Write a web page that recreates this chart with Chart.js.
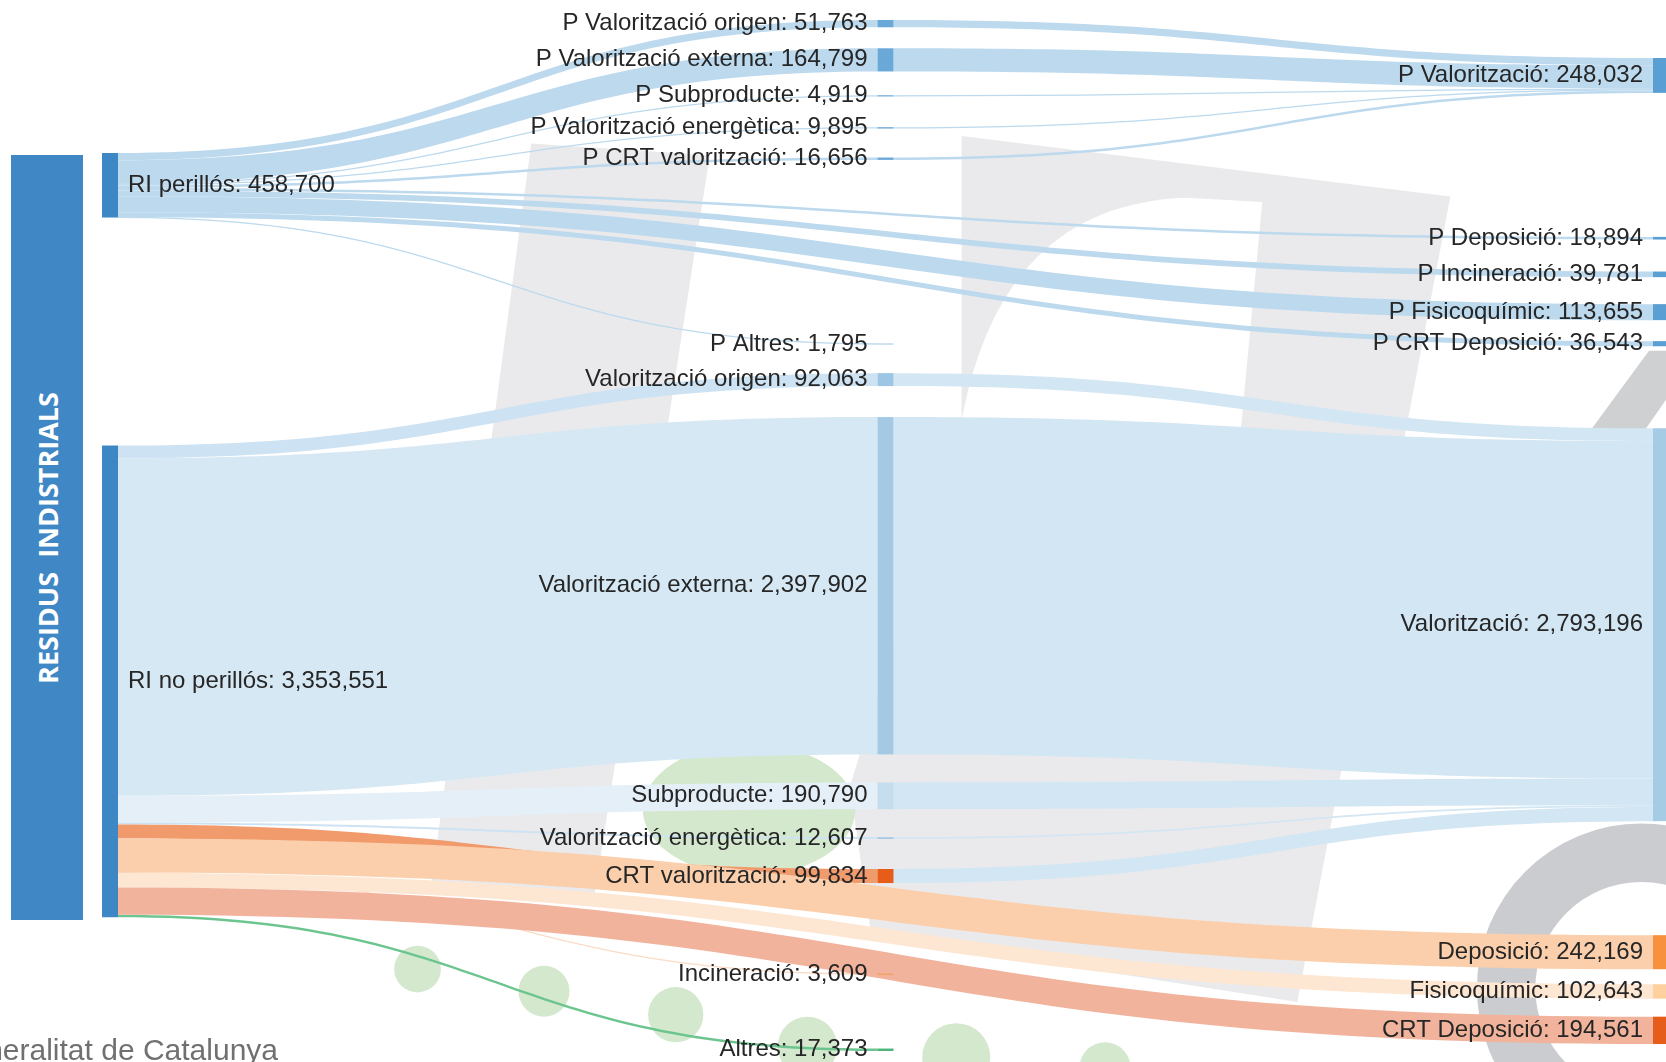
<!DOCTYPE html>
<html>
<head>
<meta charset="utf-8">
<title>Residus industrials</title>
<script src="https://cdn.jsdelivr.net/npm/chart.js@4.4.1/dist/chart.umd.min.js"></script>
<style>
  html, body { margin: 0; padding: 0; background: #fff; }
  #wrap { position: relative; width: 1666px; height: 1062px; overflow: hidden; }
  #side {
    position: absolute; left: 11px; top: 155px; width: 72px; height: 765px;
    background: #3f88c5; display: flex; align-items: center; justify-content: center;
  }
  #side span {
    writing-mode: vertical-rl; transform: rotate(180deg); white-space: pre;
    color: #fff; font: bold 27px "Open Sans", sans-serif;
  }
</style>
</head>
<body>
<div id="wrap">
  <canvas id="sankeyChart" width="1666" height="1062"></canvas>
  <div id="side"><span>RESIDUS  INDISTRIALS</span></div>
</div>
<script>
// ===== DATA =====
const nodeNames = [
  "RI perillós", "RI no perillós",
  "P Valorització origen", "P Valorització externa", "P Subproducte",
  "P Valorització energètica", "P CRT valorització", "P Altres",
  "Valorització origen", "Valorització externa", "Subproducte",
  "Valorització energètica", "CRT valorització", "Incineració", "Altres",
  "P Valorització", "P Deposició", "P Incineració", "P Fisicoquímic", "P CRT Deposició",
  "Valorització", "Deposició", "Fisicoquímic", "CRT Deposició"
];
const nodeColumn = [0, 0, 1, 1, 1, 1, 1, 1, 1, 1, 1, 1, 1, 1, 1, 2, 2, 2, 2, 2, 2, 2, 2, 2];

const linkFrom = [
  "RI perillós", "RI perillós", "RI perillós", "RI perillós", "RI perillós",
  "RI perillós", "RI perillós", "RI perillós", "RI perillós", "RI perillós",
  "P Valorització origen", "P Valorització externa", "P Subproducte",
  "P Valorització energètica", "P CRT valorització",
  "RI no perillós", "RI no perillós", "RI no perillós", "RI no perillós", "RI no perillós",
  "RI no perillós", "RI no perillós", "RI no perillós", "RI no perillós", "RI no perillós",
  "Valorització origen", "Valorització externa", "Subproducte",
  "Valorització energètica", "CRT valorització"
];
const linkTo = [
  "P Valorització origen", "P Valorització externa", "P Subproducte",
  "P Valorització energètica", "P CRT valorització", "P Altres",
  "P Deposició", "P Incineració", "P Fisicoquímic", "P CRT Deposició",
  "P Valorització", "P Valorització", "P Valorització", "P Valorització", "P Valorització",
  "Valorització origen", "Valorització externa", "Subproducte",
  "Valorització energètica", "CRT valorització", "Incineració", "Altres",
  "Deposició", "Fisicoquímic", "CRT Deposició",
  "Valorització", "Valorització", "Valorització", "Valorització", "Valorització"
];
const linkValue = [
  51763, 164799, 4919, 9895, 16656, 1795, 18894, 39781, 113655, 36543,
  51763, 164799, 4919, 9895, 16656,
  92063, 2397902, 190790, 12607, 99834, 3609, 17373, 242169, 102643, 194561,
  92063, 2397902, 190790, 12607, 99834
];

// ===== LAYOUT / STYLE =====
// space (px) left above each node inside its column
const nodeGap = [153, 228, 20, 21, 24, 31, 29, 184, 29, 31, 28, 28, 30, 91, 74, 58, 144, 32, 27, 21, 82, 114, 15, 18];
const nodeColor = {
  "RI perillós": "#3d87c4", "RI no perillós": "#3d87c4",
  "P Valorització origen": "#6aa8d8", "P Valorització externa": "#6aa8d8",
  "P Subproducte": "#8fbde2", "P Valorització energètica": "#7fb3dc",
  "P CRT valorització": "#6aa8d8", "P Altres": "#c5dcef",
  "Valorització origen": "#9dc6e4", "Valorització externa": "#a3c9e4",
  "Subproducte": "#c6dcef", "Valorització energètica": "#a3c9e4",
  "CRT valorització": "#e65c1a", "Incineració": "#f4a26b", "Altres": "#4cb579",
  "P Valorització": "#5a9fd4", "P Deposició": "#5a9fd4", "P Incineració": "#5a9fd4",
  "P Fisicoquímic": "#5a9fd4", "P CRT Deposició": "#5a9fd4",
  "Valorització": "#a6cbe5", "Deposició": "#f7913d",
  "Fisicoquímic": "#fdd09e", "CRT Deposició": "#e65c1a"
};
const linkColor = {
  "Valorització origen": "#cde2f2", "Valorització externa": "#d6e8f4",
  "Subproducte": "#e5eff8", "Valorització energètica": "#cde2f2",
  "CRT valorització": "#f19a6c", "Incineració": "#fadcc6", "Altres": "#6cc58e",
  "Valorització": "#d3e6f3", "Deposició": "#fbcfab",
  "Fisicoquímic": "#fde6d2", "CRT Deposició": "#f2b39c"
};
const P_LINK = "#bcd9ee";
const NODE_W = 16;
const S = 1.0625; // background artwork drawn in 1568-wide units

function fmt(v) { return v.toLocaleString("en-US"); }

// faded logo behind the diagram
const watermarkPlugin = {
  id: "watermark",
  beforeDraw(chart) {
    const ctx = chart.ctx;
    ctx.save();
    ctx.fillStyle = "#fff";
    ctx.fillRect(0, 0, chart.width, chart.height);
    ctx.scale(S, S);

    const poly = (pts, color) => {
      ctx.beginPath();
      pts.forEach((p, i) => i ? ctx.lineTo(p[0], p[1]) : ctx.moveTo(p[0], p[1]));
      ctx.closePath();
      ctx.fillStyle = color;
      ctx.fill();
    };
    // left leg
    poly([[500, 135], [668, 146], [560, 840], [405, 840]], "#eaeaec");
    // arch with right leg
    poly([[905, 128], [1365, 185], [1221, 943], [820, 880], [800, 740], [905, 396]], "#eaeaec");
    // white inside of the arch
    ctx.beginPath();
    ctx.moveTo(905, 396);
    ctx.bezierCurveTo(930, 260, 1000, 190, 1117, 186);
    ctx.lineTo(1188, 190);
    ctx.lineTo(1140, 700);
    ctx.lineTo(880, 700);
    ctx.closePath();
    ctx.fillStyle = "#fff";
    ctx.fill();

    poly([[1497, 405], [1548, 405], [1600, 330], [1552, 330]], "#cfd0d2");

    ctx.beginPath();
    ctx.arc(1545, 930, 155, 0, Math.PI * 2);
    ctx.arc(1545, 930, 100, 0, Math.PI * 2, true);
    ctx.fillStyle = "#cbcccf";
    ctx.fill();

    ctx.fillStyle = "#d3e8cc";
    [[393, 912, 22], [512, 933, 24], [636, 955, 26], [760, 985, 28], [900, 995, 32], [1040, 1005, 24]]
      .forEach(c => { ctx.beginPath(); ctx.arc(c[0], c[1], c[2], 0, Math.PI * 2); ctx.fill(); });
    ctx.beginPath();
    ctx.ellipse(705, 762, 100, 62, 0, 0, Math.PI * 2);
    ctx.fill();
    ctx.restore();

    ctx.save();
    ctx.font = '30px "Liberation Sans", Arial, sans-serif';
    ctx.fillStyle = "#707070";
    ctx.textAlign = "right";
    ctx.textBaseline = "alphabetic";
    ctx.fillText("Generalitat de Catalunya", 278, 1060);
    ctx.restore();
  }
};

const sankeyPlugin = {
  id: "sankey",
  afterDatasetsDraw(chart) {
    const { ctx } = chart;
    const xs = chart.scales.x, ys = chart.scales.y;
    const pxPerUnit = Math.abs(ys.getPixelForValue(1e6) - ys.getPixelForValue(0)) / 1e6;

    // node values = larger of inflow / outflow
    const value = {};
    nodeNames.forEach(n => {
      let inSum = 0, outSum = 0;
      linkValue.forEach((v, i) => {
        if (linkTo[i] === n) inSum += v;
        if (linkFrom[i] === n) outSum += v;
      });
      value[n] = Math.max(inSum, outSum);
    });

    // stack nodes in each column (in data units)
    const top = {}, col = {};
    [0, 1, 2].forEach(c => {
      let cursor = 0;
      nodeNames.forEach((n, i) => {
        if (nodeColumn[i] !== c) return;
        cursor += nodeGap[i] / pxPerUnit;
        top[n] = cursor;
        col[n] = c;
        cursor += value[n];
      });
    });

    // link offsets on both ends
    const links = linkValue.map((v, i) => ({ s: linkFrom[i], t: linkTo[i], v }));
    nodeNames.forEach(n => {
      let o = 0;
      links.filter(l => l.s === n).sort((a, b) => top[a.t] - top[b.t]).forEach(l => { l.sy = top[n] + o; o += l.v; });
      let p = 0;
      links.filter(l => l.t === n).sort((a, b) => top[a.s] - top[b.s]).forEach(l => { l.ty = top[n] + p; p += l.v; });
    });

    // links
    links.forEach(l => {
      const x0 = xs.getPixelForValue(col[l.s]) + NODE_W;
      const x1 = xs.getPixelForValue(col[l.t]);
      const xm = (x0 + x1) / 2;
      const a0 = ys.getPixelForValue(l.sy), a1 = ys.getPixelForValue(l.sy + l.v);
      const b0 = ys.getPixelForValue(l.ty), b1 = ys.getPixelForValue(l.ty + l.v);
      const color = linkColor[l.t] || P_LINK;
      if (a1 - a0 < 1.3) {
        const am = (a0 + a1) / 2, bm = (b0 + b1) / 2;
        ctx.beginPath();
        ctx.moveTo(x0, am);
        ctx.bezierCurveTo(xm, am, xm, bm, x1, bm);
        ctx.strokeStyle = color;
        ctx.lineWidth = 1.3;
        ctx.stroke();
        return;
      }
      ctx.beginPath();
      ctx.moveTo(x0, a0);
      ctx.bezierCurveTo(xm, a0, xm, b0, x1, b0);
      ctx.lineTo(x1, b1);
      ctx.bezierCurveTo(xm, b1, xm, a1, x0, a1);
      ctx.closePath();
      ctx.fillStyle = color;
      ctx.fill();
    });

    // nodes
    nodeNames.forEach(n => {
      const x0 = xs.getPixelForValue(col[n]);
      const y0 = ys.getPixelForValue(top[n]), y1 = ys.getPixelForValue(top[n] + value[n]);
      let h = y1 - y0, yy = y0;
      if (h < 1.6) { yy = (y0 + y1) / 2 - 0.8; h = 1.6; }
      ctx.fillStyle = nodeColor[n];
      ctx.fillRect(x0, yy, NODE_W, h);
    });

    // labels
    ctx.save();
    ctx.font = '24px "Liberation Sans", Arial, sans-serif';
    ctx.fillStyle = "#262626";
    ctx.textBaseline = "middle";
    nodeNames.forEach(n => {
      const x0 = xs.getPixelForValue(col[n]);
      const yc = (ys.getPixelForValue(top[n]) + ys.getPixelForValue(top[n] + value[n])) / 2;
      const text = n + ": " + fmt(value[n]);
      if (col[n] === 0) {
        ctx.textAlign = "left";
        ctx.fillText(text, x0 + NODE_W + 10, yc);
      } else {
        ctx.textAlign = "right";
        ctx.fillText(text, x0 - 10, yc);
      }
    });
    ctx.restore();
  }
};

new Chart(document.getElementById("sankeyChart"), {
  type: "scatter",
  data: { datasets: [{ data: [], pointRadius: 0 }] },
  options: {
    responsive: false,
    animation: false,
    layout: { padding: { left: 102, right: 13, top: 0, bottom: 0 } },
    plugins: { legend: { display: false }, tooltip: { enabled: false } },
    scales: {
      x: { type: "linear", min: 0, max: 2, display: false },
      y: { type: "linear", min: 0, max: 7550000, reverse: true, display: false }
    }
  },
  plugins: [watermarkPlugin, sankeyPlugin]
});
</script>
</body>
</html>
